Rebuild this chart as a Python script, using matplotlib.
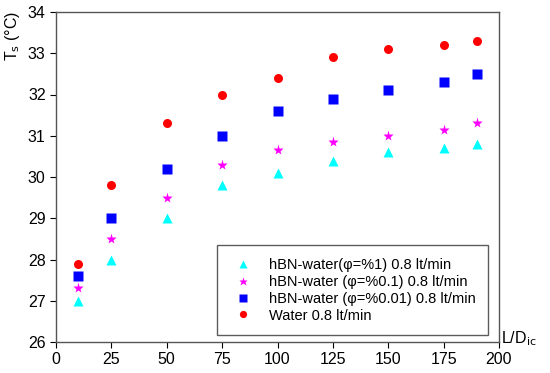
import matplotlib
matplotlib.use('Agg')
import matplotlib.pyplot as plt

# L/Dic positions
x = [10, 25, 50, 75, 100, 125, 150, 175, 190]

# surface temperature readings (deg C)
water = [27.9, 29.8, 31.3, 32.0, 32.4, 32.9, 33.1, 33.2, 33.3]
hbn_001 = [27.6, 29.0, 30.2, 31.0, 31.6, 31.9, 32.1, 32.3, 32.5]
hbn_01 = [27.3, 28.5, 29.5, 30.3, 30.65, 30.85, 31.0, 31.15, 31.3]
hbn_1 = [27.0, 28.0, 29.0, 29.8, 30.1, 30.4, 30.6, 30.7, 30.8]

plt.rcParams['font.family'] = ['Liberation Sans', 'DejaVu Sans']

fig = plt.figure(figsize=(5.5, 3.73), dpi=100)
ax = fig.add_axes([56/550, 1 - 342/373, 443/550, 330/373])

ax.plot(x, hbn_1, '^', color='cyan', ms=7, mec='none', label='hBN-water(φ=%1) 0.8 lt/min')
ax.plot(x, hbn_01, '*', color='magenta', ms=8, mec='none', label='hBN-water (φ=%0.1) 0.8 lt/min')
ax.plot(x, hbn_001, 's', color='blue', ms=6.5, mec='none', label='hBN-water (φ=%0.01) 0.8 lt/min')
ax.plot(x, water, 'o', color='red', ms=6.5, mec='none', label='Water 0.8 lt/min')

ax.set_xlim(0, 200)
ax.set_ylim(26, 34)
ax.set_xticks(range(0, 201, 25))
ax.set_yticks(range(26, 35))
ax.tick_params(direction='out', length=4, labelsize=11.5, top=False, right=False)
for s in ax.spines.values():
    s.set_color('#555555')
    s.set_linewidth(1)

leg = ax.legend(loc='lower right', bbox_to_anchor=(432/443, 7/330), frameon=True,
                fancybox=False, edgecolor='#333333', fontsize=10.5, handletextpad=0.9,
                borderpad=0.85, labelspacing=0.2, borderaxespad=0, markerscale=0.8,
                handlelength=1.8)
leg.get_frame().set_linewidth(1)

fig.text(519/550, 1 - 348/373, 'L/D$_{\\mathrm{ic}}$', fontsize=11.5, ha='center', va='bottom')
fig.text(13/550, 1 - 36/373, 'T$_{\\mathrm{s}}$ (°C)', fontsize=11.5, rotation=90, ha='center', va='center')

fig.savefig('out.png', dpi=100)
